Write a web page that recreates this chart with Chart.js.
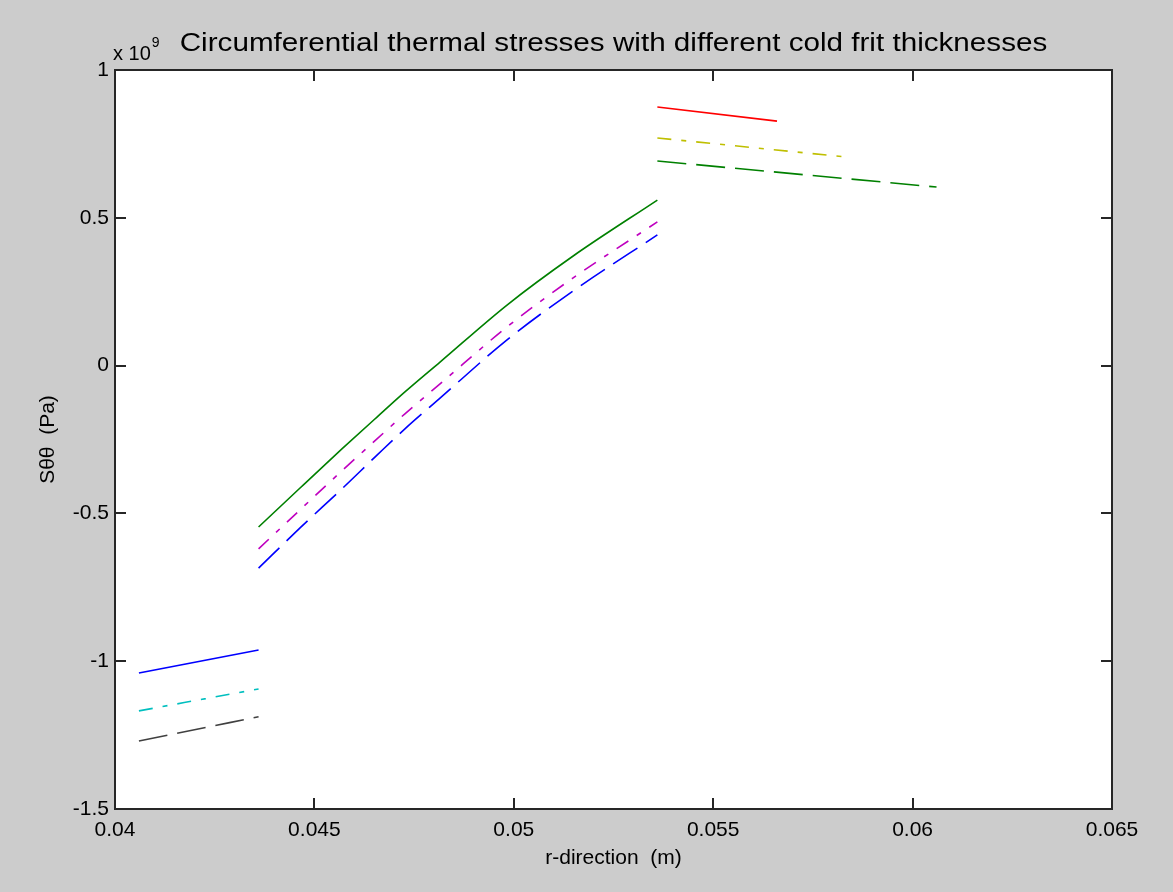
<!DOCTYPE html>
<html>
<head>
<meta charset="utf-8">
<script src="https://cdn.jsdelivr.net/npm/chart.js@4/dist/chart.umd.min.js"></script>
<style>
  html, body { margin: 0; padding: 0; background: #cccccc; }
  canvas { display: block; }
</style>
</head>
<body>
<canvas id="chart" width="1173" height="892"></canvas>
<script>
// values, stresses in units of 1e9 Pa
const innerR = [0.0406, 0.0436];
const innerSolid = [-1.040, -0.962];
const innerDashDot = [-1.168, -1.094];
const innerDashed = [-1.270, -1.188];

const midR = [0.0436, 0.04464, 0.04569, 0.04657, 0.04727, 0.04815, 0.04983, 0.05148, 0.0536];
const midSolid = [-0.546, -0.414, -0.282, -0.174, -0.089, 0.012, 0.205, 0.370, 0.560];
const midDashDot = [-0.620, -0.488, -0.356, -0.248, -0.163, -0.062, 0.131, 0.296, 0.486];
const midDashed = [-0.685, -0.549, -0.417, -0.303, -0.214, -0.110, 0.087, 0.252, 0.442];

const outerSolidR = [0.0536, 0.0566];
const outerSolid = [0.875, 0.827];
const outerDashDotR = [0.0536, 0.0583];
const outerDashDot = [0.770, 0.706];
const outerDashedR = [0.0536, 0.0606];
const outerDashed = [0.692, 0.604];

const xTicks = [0.04, 0.045, 0.05, 0.055, 0.06, 0.065];
const xTickLabels = ["0.04", "0.045", "0.05", "0.055", "0.06", "0.065"];
const yTicks = [-1.5, -1, -0.5, 0, 0.5, 1];
const yTickLabels = ["-1.5", "-1", "-0.5", "0", "0.5", "1"];

const titleText = "Circumferential thermal stresses with different cold frit thicknesses";
const FONT = "'Liberation Sans', Arial, sans-serif";
const SOLID = [];
const DASHED = [29, 10];
const DASHDOT = [14, 10, 5, 10];

function pts(xs, ys) {
  return xs.map((x, i) => ({ x: x, y: ys[i] }));
}

function line(xs, ys, color, dash) {
  return {
    data: pts(xs, ys),
    borderColor: color,
    borderWidth: 1.6,
    borderDash: dash,
    pointRadius: 0,
    cubicInterpolationMode: "monotone",
    fill: false,
  };
}

const figurePlugin = {
  id: "figure",
  beforeDraw(chart) {
    const { ctx, chartArea: a } = chart;
    ctx.save();
    ctx.fillStyle = "#cccccc";
    ctx.fillRect(0, 0, chart.width, chart.height);
    ctx.fillStyle = "#ffffff";
    ctx.fillRect(a.left, a.top, a.right - a.left, a.bottom - a.top);
    ctx.restore();
  },
  afterDraw(chart) {
    const { ctx, chartArea: a, scales } = chart;
    ctx.save();
    // box and inward ticks, matlab style
    ctx.strokeStyle = "#262626";
    ctx.lineWidth = 2;
    ctx.strokeRect(a.left, a.top, a.right - a.left, a.bottom - a.top);
    ctx.beginPath();
    xTicks.forEach((v) => {
      const px = Math.round(scales.x.getPixelForValue(v));
      ctx.moveTo(px, a.bottom); ctx.lineTo(px, a.bottom - 11);
      ctx.moveTo(px, a.top); ctx.lineTo(px, a.top + 11);
    });
    yTicks.forEach((v) => {
      const py = Math.round(scales.y.getPixelForValue(v));
      ctx.moveTo(a.left, py); ctx.lineTo(a.left + 11, py);
      ctx.moveTo(a.right, py); ctx.lineTo(a.right - 11, py);
    });
    ctx.stroke();

    // title (the original text is drawn a bit wide)
    ctx.fillStyle = "#000000";
    ctx.textBaseline = "alphabetic";
    ctx.textAlign = "center";
    ctx.font = "26px " + FONT;
    ctx.save();
    ctx.translate((a.left + a.right) / 2, 51);
    ctx.scale(1.14, 1);
    ctx.fillText(titleText, 0, 0);
    ctx.restore();

    // exponent label
    ctx.textAlign = "left";
    ctx.font = "20px " + FONT;
    ctx.fillText("x 10", a.left - 2, 60);
    const w = ctx.measureText("x 10").width;
    ctx.font = "14px " + FONT;
    ctx.fillText("9", a.left - 2 + w + 1, 47);
    ctx.restore();
  },
};

new Chart(document.getElementById("chart"), {
  type: "line",
  data: {
    datasets: [
      line(innerR, innerSolid, "#0000ff", SOLID),
      line(innerR, innerDashDot, "#00bfbf", DASHDOT),
      line(innerR, innerDashed, "#404040", DASHED),
      line(midR, midSolid, "#008000", SOLID),
      line(midR, midDashDot, "#bf00bf", DASHDOT),
      line(midR, midDashed, "#0000ff", DASHED),
      line(outerSolidR, outerSolid, "#ff0000", SOLID),
      line(outerDashDotR, outerDashDot, "#bfbf00", DASHDOT),
      line(outerDashedR, outerDashed, "#008000", DASHED),
    ],
  },
  options: {
    responsive: false,
    animation: false,
    devicePixelRatio: 1,
    layout: { padding: { top: 70, right: 61, left: 0, bottom: 0 } },
    plugins: {
      legend: { display: false },
      tooltip: { enabled: false },
      title: { display: false },
    },
    scales: {
      x: {
        type: "linear",
        min: 0.04,
        max: 0.065,
        afterFit: (s) => { s.height = 83; },
        afterBuildTicks: (s) => { s.ticks = xTicks.map((v) => ({ value: v })); },
        grid: { display: false, drawTicks: false },
        border: { display: false },
        ticks: {
          autoSkip: false,
          maxRotation: 0,
          padding: 9,
          color: "#000000",
          font: { family: FONT, size: 21 },
          callback: (v) => xTickLabels[xTicks.indexOf(v)] ?? "",
        },
        title: {
          display: true,
          text: "r-direction  (m)",
          color: "#000000",
          font: { family: FONT, size: 21 },
          padding: { bottom: 21 },
        },
      },
      y: {
        type: "linear",
        min: -1.5,
        max: 1,
        afterFit: (s) => { s.width = 115; },
        afterBuildTicks: (s) => { s.ticks = yTicks.map((v) => ({ value: v })); },
        grid: { display: false, drawTicks: false },
        border: { display: false },
        ticks: {
          autoSkip: false,
          padding: 6,
          color: "#000000",
          font: { family: FONT, size: 21 },
          callback: (v) => yTickLabels[yTicks.indexOf(v)] ?? "",
        },
        title: {
          display: true,
          text: "S\u03b8\u03b8  (Pa)",
          color: "#000000",
          font: { family: FONT, size: 21 },
          padding: { top: 36 },
        },
      },
    },
  },
  plugins: [figurePlugin],
});
</script>
</body>
</html>
